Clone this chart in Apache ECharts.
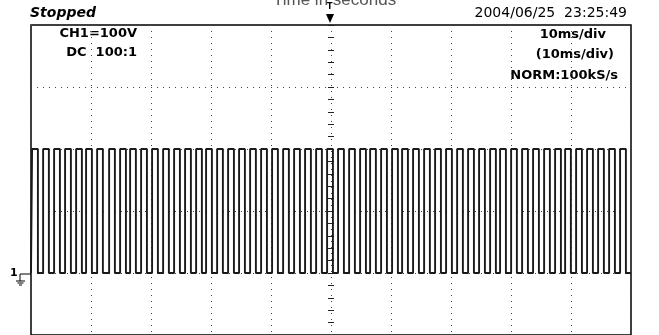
<!DOCTYPE html>
<html>
<head>
<meta charset="utf-8">
<script src="https://cdn.jsdelivr.net/npm/echarts@6/dist/echarts.min.js"></script>
<style>
html,body{margin:0;padding:0;background:#fff;}
#chart{width:659px;height:335px;}
</style>
</head>
<body>
<div id="chart"></div>
<script>
// Time axis (ms) and voltage axis (V)
const xTicks = [0, 10, 20, 30, 40, 50, 60, 70, 80, 90, 100];
const yTicks = [-100, 0, 100, 200, 300, 400];
// Signal levels (V)
const highLevel = 200;
const lowLevel = 0;
// Rising edge times (ms)
const rises = [0.18, 2.02, 3.85, 5.68, 7.52, 9.18, 11.02, 13.02, 14.85, 16.52,
  18.35, 20.18, 22.02, 23.85, 25.68, 27.52, 29.18, 31.02, 32.85, 34.68,
  36.52, 38.35, 40.18, 42.02, 43.85, 45.68, 47.52, 49.35, 51.18, 53.02,
  54.85, 56.52, 58.35, 60.18, 61.85, 63.68, 65.52, 67.35, 69.18, 71.02,
  72.85, 74.68, 76.52, 78.18, 80.02, 81.85, 83.68, 85.52, 87.35, 89.02,
  90.85, 92.68, 94.52, 96.35, 98.18];
// Falling edge times (ms)
const falls = [1.15, 2.98, 4.82, 6.65, 8.48, 10.15, 11.98, 13.98, 15.82, 17.48,
  19.32, 21.15, 22.98, 24.82, 26.65, 28.48, 30.15, 31.98, 33.82, 35.65,
  37.48, 39.32, 41.15, 42.98, 44.82, 46.65, 48.48, 50.32, 52.15, 53.98,
  55.82, 57.48, 59.32, 61.15, 62.82, 64.65, 66.48, 68.32, 70.15, 71.98,
  73.82, 75.65, 77.48, 79.15, 80.98, 82.82, 84.65, 86.48, 88.32, 89.98,
  91.82, 93.65, 95.48, 97.32, 99.15];
// Header texts
const statusText = 'Stopped';
const dateText = '2004/06/25  23:25:49';
const titleText = 'Time in seconds';
const leftInfo = ['CH1=100V', 'DC  100:1'];
const rightInfo = ['10ms/div', '(10ms/div)', 'NORM:100kS/s'];

const trace = [[xTicks[0], lowLevel]];
for (let i = 0; i < rises.length; i++) {
  trace.push([rises[i], lowLevel], [rises[i], highLevel], [falls[i], highLevel], [falls[i], lowLevel]);
}
trace.push([xTicks[xTicks.length - 1], lowLevel]);

const dotted = {color: '#444', width: 1, type: [1, 5]};
const infoFont = 'bold 13px "DejaVu Sans"';

const chart = echarts.init(document.getElementById('chart'), null, {renderer: 'canvas'});
chart.setOption({
  animation: false,
  backgroundColor: '#fff',
  grid: {left: 31, top: 25, width: 600, height: 310, show: true, borderColor: '#000', borderWidth: 1.5, backgroundColor: 'transparent'},
  xAxis: [{
    type: 'value', min: xTicks[0], max: xTicks[xTicks.length - 1], interval: 10,
    axisLine: {show: false}, axisTick: {show: false}, axisLabel: {show: false},
    splitLine: {show: true, lineStyle: dotted}
  }],
  yAxis: [{
    type: 'value', min: yTicks[0], max: yTicks[yTicks.length - 1], interval: 100,
    axisLine: {show: false}, axisTick: {show: false}, axisLabel: {show: false},
    splitLine: {show: true, lineStyle: dotted}
  }, {
    type: 'value', min: yTicks[0], max: yTicks[yTicks.length - 1], interval: 100,
    position: 'left', offset: -300,
    axisLine: {show: false}, axisLabel: {show: false}, splitLine: {show: false},
    axisTick: {show: true, length: 3, inside: false, lineStyle: {color: '#222'}},
    minorTick: {show: true, splitNumber: 5, length: 3, lineStyle: {color: '#222'}}
  }, {
    type: 'value', min: yTicks[0], max: yTicks[yTicks.length - 1], interval: 100,
    position: 'left', offset: -300,
    axisLine: {show: false}, axisLabel: {show: false}, splitLine: {show: false},
    axisTick: {show: true, length: 3, inside: true, lineStyle: {color: '#222'}},
    minorTick: {show: true, splitNumber: 5, length: 3, lineStyle: {color: '#222'}}
  }],
  series: [{
    type: 'line', data: trace, showSymbol: false, symbol: 'none',
    lineStyle: {color: '#1a1a1a', width: 1.9}, z: 5
  }],
  graphic: [
    {type: 'text', left: 340 - 67, top: -8, style: {text: titleText, font: '17px "Liberation Sans"', fill: '#555'}},
    {type: 'text', left: 30, top: 6, style: {text: statusText, font: 'italic bold 14px "DejaVu Sans"', fill: '#000'}},
    {type: 'text', right: 32, top: 6, style: {text: dateText, font: '14px "DejaVu Sans"', fill: '#000'}},
    {type: 'text', right: 659 - 137, top: 27, style: {text: leftInfo[0], font: infoFont, fill: '#000'}},
    {type: 'text', right: 659 - 137, top: 46, style: {text: leftInfo[1], font: infoFont, fill: '#000', whiteSpace: 'pre'}},
    {type: 'text', right: 659 - 606, top: 28, style: {text: rightInfo[0], font: infoFont, fill: '#000'}},
    {type: 'text', right: 659 - 614, top: 48, style: {text: rightInfo[1], font: infoFont, fill: '#000'}},
    {type: 'text', right: 659 - 618, top: 69, style: {text: rightInfo[2], font: infoFont, fill: '#000'}},
    // trigger marker
    {type: 'text', left: 327, top: 3, style: {text: 'T', font: 'bold 8px "DejaVu Sans"', fill: '#000'}},
    {type: 'polygon', shape: {points: [[326, 14], [334, 14], [330, 23]]}, style: {fill: '#000'}},
    // ground marker
    {type: 'text', left: 10, top: 268, style: {text: '1', font: 'bold 11px "DejaVu Sans"', fill: '#000'}},
    {type: 'polyline', shape: {points: [[31, 274], [20, 274], [20, 281]]}, style: {stroke: '#000', lineWidth: 1, fill: null}},
    {type: 'line', shape: {x1: 16, y1: 281, x2: 25, y2: 281}, style: {stroke: '#000', lineWidth: 1}},
    {type: 'line', shape: {x1: 17.5, y1: 283, x2: 23.5, y2: 283}, style: {stroke: '#000', lineWidth: 1}},
    {type: 'line', shape: {x1: 19, y1: 285, x2: 22, y2: 285}, style: {stroke: '#000', lineWidth: 1}}
  ]
});
</script>
</body>
</html>
